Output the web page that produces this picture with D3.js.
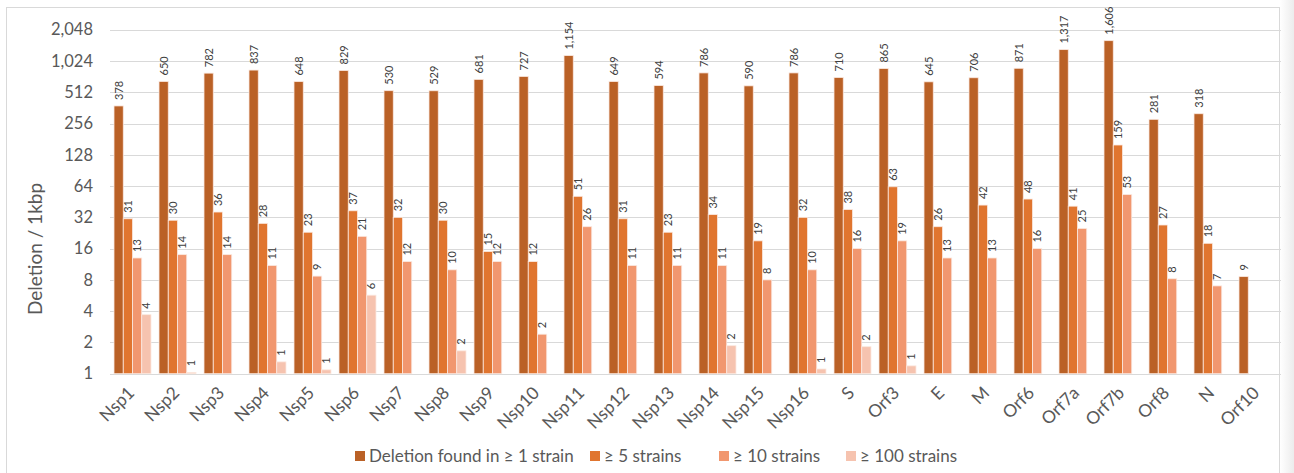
<!DOCTYPE html>
<html>
<head>
<meta charset="utf-8">
<script src="https://cdn.jsdelivr.net/npm/d3@7"></script>
<style>
  body { margin: 0; background: #fff; }
  svg text { font-family: Lato, "Noto Sans", sans-serif; }
  .tick-label { fill: #595959; font-size: 16.5px; }
  .cat-label { fill: #595959; font-size: 17.5px; }
  .data-label { fill: #404040; font-size: 11px; }
  .legend-text { fill: #595959; font-size: 17px; }
</style>
</head>
<body>
<div id="chart"></div>
<script>
// genes along the genome
const categories = ["Nsp1", "Nsp2", "Nsp3", "Nsp4", "Nsp5", "Nsp6", "Nsp7", "Nsp8", "Nsp9", "Nsp10",
    "Nsp11", "Nsp12", "Nsp13", "Nsp14", "Nsp15", "Nsp16", "S", "Orf3", "E", "M",
    "Orf6", "Orf7a", "Orf7b", "Orf8", "N", "Orf10"];

const seriesNames = ["Deletion found in \u2265 1 strain", "\u2265 5 strains", "\u2265 10 strains", "\u2265 100 strains"];

// deletions per 1kbp, null = no bar
const atLeast1 = [378, 650, 782, 837, 648, 829, 530, 529, 681, 727,
    1154, 649, 594, 786, 590, 786, 710, 865, 645, 706,
    871, 1317, 1606, 281, 318, 8.6];
const atLeast5 = [31, 30, 36, 28, 23, 37, 32, 30, 15, 12,
    51, 31, 23, 34, 19, 32, 38, 63, 26, 42,
    48, 41, 159, 27, 18, null];
const atLeast10 = [13, 14, 14, 11, 8.7, 21, 12, 10, 12, 2.4,
    26, 11, 11, 11, 8, 10, 16, 19, 13, 13,
    16, 25, 53, 8.2, 7, null];
const atLeast100 = [3.7, 1.03, null, 1.3, 1.09, 5.7, null, 1.66, null, null,
    null, null, null, 1.86, null, 1.11, 1.82, 1.19, null, null,
    null, null, null, null, null, null];

const yTicks = [1, 2, 4, 8, 16, 32, 64, 128, 256, 512, 1024, 2048];
const colors = ["#BA6126", "#E0752F", "#F1976F", "#F6C3AF"];

const width = 1294;
const height = 473;

const allSeries = [atLeast1, atLeast5, atLeast10, atLeast100];

const svg = d3.select("#chart")
    .append("svg")
    .attr("width", width)
    .attr("height", height);

// chart frame + right shadow
const defs = svg.append("defs");
const shadow = defs.append("linearGradient")
    .attr("id", "shadow")
    .attr("x1", "0%").attr("x2", "100%");
shadow.append("stop").attr("offset", "0%").attr("stop-color", "#ffffff");
shadow.append("stop").attr("offset", "100%").attr("stop-color", "#ececec");

svg.append("rect")
    .attr("x", 1280).attr("y", 0)
    .attr("width", 14).attr("height", height)
    .attr("fill", "url(#shadow)");

svg.append("rect")
    .attr("x", 6.5).attr("y", 7.5)
    .attr("width", 1273).attr("height", 480)
    .attr("fill", "#fff")
    .attr("stroke", "#d9d9d9");

const xScale = d3.scaleBand()
    .domain(categories)
    .range([110, 1280])
    .paddingInner(0.178)
    .paddingOuter(0.089);

const xInner = d3.scaleBand()
    .domain(d3.range(allSeries.length))
    .range([0, xScale.bandwidth()]);

const yScale = d3.scaleLog()
    .base(2)
    .domain([1, 2048])
    .range([373.7, 29.7]);

// grid
svg.append("g")
    .selectAll("line")
    .data(yTicks)
    .join("line")
    .attr("x1", 110)
    .attr("x2", 1281)
    .attr("y1", d => Math.round(yScale(d)) + 0.5)
    .attr("y2", d => Math.round(yScale(d)) + 0.5)
    .attr("stroke", "#d9d9d9")
    .attr("stroke-width", 1);

// y labels
svg.append("g")
    .selectAll("text")
    .data(yTicks)
    .join("text")
    .attr("class", "tick-label")
    .attr("x", 93)
    .attr("y", d => yScale(d))
    .attr("dy", "0.35em")
    .attr("text-anchor", "end")
    .text(d => d3.format(",")(d));

svg.append("text")
    .attr("class", "tick-label")
    .attr("transform", "translate(42, 249) rotate(-90)")
    .attr("text-anchor", "middle")
    .style("font-size", "19px")
    .text("Deletion / 1kbp");

// bars
const barData = [];
allSeries.forEach((values, s) => {
    values.forEach((v, i) => {
        if (v != null) barData.push({ cat: categories[i], s: s, v: v });
    });
});

svg.append("g")
    .selectAll("rect")
    .data(barData)
    .join("rect")
    .attr("x", d => xScale(d.cat) + xInner(d.s))
    .attr("y", d => yScale(d.v))
    .attr("width", xInner.bandwidth())
    .attr("height", d => yScale(1) - yScale(d.v))
    .attr("fill", d => colors[d.s])
    .attr("stroke", "#fbe9e0")
    .attr("stroke-width", 0.8);

// value labels
svg.append("g")
    .selectAll("text")
    .data(barData)
    .join("text")
    .attr("class", "data-label")
    .attr("transform", d => {
        const cx = xScale(d.cat) + xInner(d.s) + xInner.bandwidth() / 2 + 4;
        const cy = yScale(d.v) - 6;
        return `translate(${cx}, ${cy}) rotate(-90)`;
    })
    .attr("text-anchor", "start")
    .text(d => d3.format(",.0f")(d.v));

// category labels
svg.append("g")
    .selectAll("text")
    .data(categories)
    .join("text")
    .attr("class", "cat-label")
    .attr("transform", d => `translate(${xScale(d) + xScale.bandwidth() / 2 + 3}, 394) rotate(-45)`)
    .attr("text-anchor", "end")
    .text(d => d);

// legend (entries placed like excel spreads them)
const legendX = [355, 590, 719, 846];
const legend = svg.append("g");
seriesNames.forEach((name, s) => {
    legend.append("rect")
        .attr("x", legendX[s])
        .attr("y", 451)
        .attr("width", 10)
        .attr("height", 10)
        .attr("fill", colors[s]);
    legend.append("text")
        .attr("class", "legend-text")
        .attr("x", legendX[s] + 14)
        .attr("y", 462)
        .text(name);
});
</script>
</body>
</html>
